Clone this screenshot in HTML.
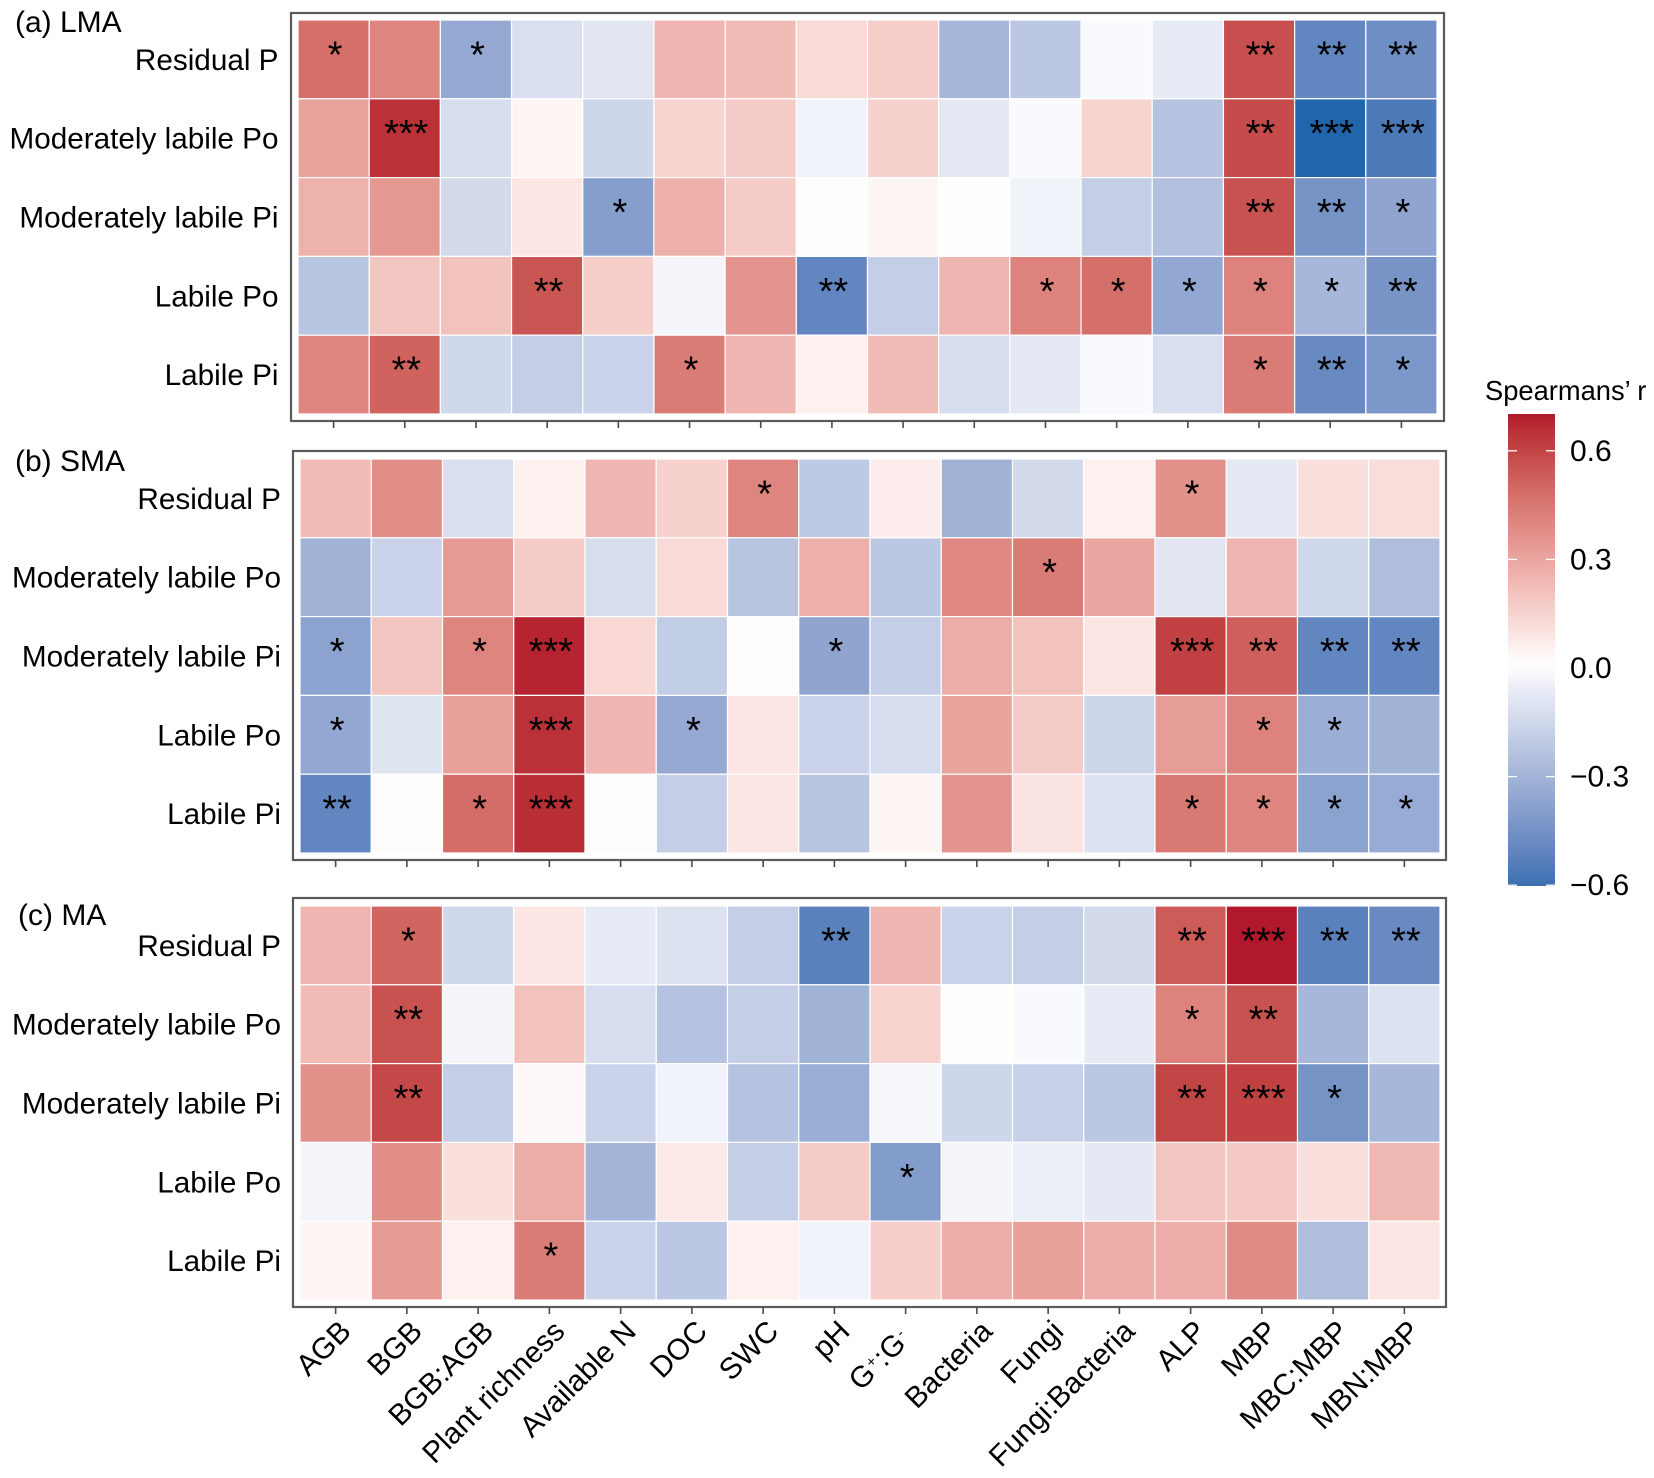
<!DOCTYPE html>
<html lang="en">
<head>
<meta charset="utf-8">
<title>Spearman correlation heatmaps</title>
<style>
html,body{margin:0;padding:0;background:#fff;width:1654px;height:1478px;overflow:hidden}
svg{display:block}
text{font-family:"Liberation Sans",Arial,sans-serif;fill:#000}
</style>
</head>
<body>
<svg id="chart" xmlns="http://www.w3.org/2000/svg" width="1654" height="1478" viewBox="0 0 1654 1478"></svg>
<script>
const columnLabels = ["AGB","BGB","BGB:AGB","Plant richness","Available N","DOC","SWC","pH","G+:G-","Bacteria","Fungi","Fungi:Bacteria","ALP","MBP","MBC:MBP","MBN:MBP"];
const rowLabels = ["Residual P","Moderately labile Po","Moderately labile Pi","Labile Po","Labile Pi"];
const legendTicks = [0.6,0.3,0,-0.3,-0.6];
const legendTickLabels = ["0.6","0.3","0.0","\u22120.3","\u22120.6"];
const legendMax = 0.7;
const legendMin = -0.62;
const panelTitles = ["(a) LMA","(b) SMA","(c) MA"];

const valuesLMA = [
 [.47,.40,-.36,-.13,-.10,.24,.22,.12,.16,-.30,-.23,-.02,-.08,.57,-.52,-.48],
 [.30,.65,-.14,.03,-.17,.14,.17,-.05,.15,-.09,-.02,.14,-.25,.58,-.70,-.58],
 [.25,.34,-.15,.08,-.41,.26,.17,.01,.03,-.01,-.05,-.20,-.26,.56,-.46,-.38],
 [-.24,.19,.20,.55,.16,-.04,.35,-.52,-.20,.24,.41,.47,-.37,.41,-.30,-.45],
 [.40,.51,-.16,-.20,-.18,.43,.24,.05,.22,-.14,-.09,-.02,-.13,.43,-.50,-.44]
];
const valuesSMA = [
 [.22,.37,-.13,.05,.24,.15,.40,-.22,.06,-.32,-.15,.05,.36,-.09,.10,.11],
 [-.32,-.18,.33,.17,-.14,.12,-.24,.26,-.23,.39,.43,.29,-.10,.24,-.16,-.27],
 [-.39,.19,.40,.68,.13,-.21,.01,-.38,-.20,.27,.20,.08,.61,.52,-.52,-.52],
 [-.37,-.11,.31,.65,.24,-.36,.08,-.18,-.14,.30,.17,-.17,.32,.41,-.34,-.32],
 [-.52,.01,.48,.66,-.01,-.20,.08,-.24,.03,.35,.09,-.12,.44,.40,-.39,-.35]
];
const valuesMA = [
 [.24,.50,-.16,.08,-.08,-.12,-.20,-.54,.24,-.18,-.20,-.15,.53,.70,-.54,-.50],
 [.22,.56,-.04,.20,-.14,-.25,-.20,-.32,.14,.01,-.02,-.08,.41,.56,-.30,-.12],
 [.36,.59,-.20,.02,-.18,-.05,-.25,-.34,-.03,-.17,-.19,-.23,.60,.61,-.46,-.30],
 [-.04,.37,.10,.27,-.31,.07,-.20,.17,-.42,-.04,-.07,-.09,.19,.18,.10,.23],
 [.03,.33,.05,.43,-.18,-.23,.05,-.05,.16,.27,.31,.27,.27,.38,-.27,.08]
];
const starsLMA = [
 [1,0,1,0,0,0,0,0,0,0,0,0,0,2,2,2],
 [0,3,0,0,0,0,0,0,0,0,0,0,0,2,3,3],
 [0,0,0,0,1,0,0,0,0,0,0,0,0,2,2,1],
 [0,0,0,2,0,0,0,2,0,0,1,1,1,1,1,2],
 [0,2,0,0,0,1,0,0,0,0,0,0,0,1,2,1]
];
const starsSMA = [
 [0,0,0,0,0,0,1,0,0,0,0,0,1,0,0,0],
 [0,0,0,0,0,0,0,0,0,0,1,0,0,0,0,0],
 [1,0,1,3,0,0,0,1,0,0,0,0,3,2,2,2],
 [1,0,0,3,0,1,0,0,0,0,0,0,0,1,1,0],
 [2,0,1,3,0,0,0,0,0,0,0,0,1,1,1,1]
];
const starsMA = [
 [0,1,0,0,0,0,0,2,0,0,0,0,2,3,2,2],
 [0,2,0,0,0,0,0,0,0,0,0,0,1,2,0,0],
 [0,2,0,0,0,0,0,0,0,0,0,0,2,3,1,0],
 [0,0,0,0,0,0,0,0,1,0,0,0,0,0,0,0],
 [0,0,0,1,0,0,0,0,0,0,0,0,0,0,0,0]
];

const NS = "http://www.w3.org/2000/svg";
const svg = document.getElementById("chart");

function mk(tag, attrs, parent, txt) {
  const e = document.createElementNS(NS, tag);
  for (const k in attrs) e.setAttribute(k, attrs[k]);
  if (txt !== undefined) e.textContent = txt;
  (parent || svg).appendChild(e);
  return e;
}

/* Lab-space diverging colour scale, white at zero */
function toLab(hex) {
  const c = [1,3,5].map(i => parseInt(hex.substr(i,2),16)/255).map(v => v>0.04045 ? Math.pow((v+0.055)/1.055,2.4) : v/12.92);
  const X=(0.4124*c[0]+0.3576*c[1]+0.1805*c[2])/0.95047, Y=0.2126*c[0]+0.7152*c[1]+0.0722*c[2], Z=(0.0193*c[0]+0.1192*c[1]+0.9505*c[2])/1.08883;
  const f = t => t>0.008856 ? Math.cbrt(t) : 7.787*t+16/116;
  return [116*f(Y)-16, 500*(f(X)-f(Y)), 200*(f(Y)-f(Z))];
}
function fromLab(l) {
  const y=(l[0]+16)/116, x=l[1]/500+y, z=y-l[2]/200;
  const g = t => t*t*t>0.008856 ? t*t*t : (t-16/116)/7.787;
  const X=g(x)*0.95047, Y=g(y), Z=g(z)*1.08883;
  const r=[3.2406*X-1.5372*Y-0.4986*Z, -0.9689*X+1.8758*Y+0.0415*Z, 0.0557*X-0.2040*Y+1.0570*Z];
  return "rgb("+r.map(v=>{v=v>0.0031308?1.055*Math.pow(v,1/2.4)-0.055:12.92*v;return Math.round(Math.max(0,Math.min(1,v))*255);}).join(",")+")";
}
const labHigh = toLab("#b2182b"), labLow = toLab("#2166ac"), labMid = toLab("#ffffff");
function colorScale(v) {
  const t = Math.min(1, Math.abs(v)/(v>=0 ? 0.7 : 0.67)), e = v>=0 ? labHigh : labLow;
  return fromLab(labMid.map((m,i)=>m+(e[i]-m)*t));
}

const panelGeoms = [
  {fx0:291,fx1:1444,fy0:13,fy1:421,tx0:298,tx1:1437,ty0:20,ty1:414,key:"lma",vals:valuesLMA,stars:starsLMA,titleX:15,titleY:32,labelX:278.5},
  {fx0:293,fx1:1446,fy0:451,fy1:860,tx0:300,tx1:1440,ty0:459,ty1:853,key:"sma",vals:valuesSMA,stars:starsSMA,titleX:15,titleY:471,labelX:281},
  {fx0:293,fx1:1446,fy0:898,fy1:1307,tx0:300,tx1:1440,ty0:906,ty1:1300,key:"ma",vals:valuesMA,stars:starsMA,titleX:18,titleY:925,labelX:281}
];
const nCols = columnLabels.length, nRows = rowLabels.length;

panelGeoms.forEach((p, pi) => {
  const xBand = (p.tx1-p.tx0)/nCols, yBand = (p.ty1-p.ty0)/nRows;
  const xScale = i => p.tx0 + i*xBand;
  const yScale = j => p.ty0 + j*yBand;
  const g = mk("g", {});
  
  

  p.vals.forEach((row, j) => row.forEach((v, i) => {
    const r = mk("rect", {x:xScale(i), y:yScale(j), width:xBand, height:yBand, fill:colorScale(v), stroke:"#fff", "stroke-width":1.2}, g);
    
    
  }));
  p.stars.forEach((row, j) => row.forEach((n, i) => {
    if (!n) return;
    const s = mk("text", {x:xScale(i)+xBand/2+1.5, y:yScale(j)+yBand/2+8, "text-anchor":"middle", "font-size":38}, g, "*".repeat(n));
    
    
  }));
  const frame = mk("rect", {x:p.fx0, y:p.fy0, width:p.fx1-p.fx0, height:p.fy1-p.fy0, fill:"none", stroke:"#5a5a5a", "stroke-width":2.2}, g);
  
  

  columnLabels.forEach((c, i) => {
    const tick = mk("line", {x1:xScale(i)+xBand/2, x2:xScale(i)+xBand/2, y1:p.fy1, y2:p.fy1+7, stroke:"#4a4a4a", "stroke-width":1.6}, g);
    
    
  });
  rowLabels.forEach((r, j) => {
    const t = mk("text", {x:p.labelX, y:yScale(j)+yBand/2+10.5, "text-anchor":"end", "font-size":29.7}, g, r);
    
    
  });
  const title = mk("text", {x:p.titleX, y:p.titleY, "font-size":30}, g, panelTitles[pi]);
  
  

  if (pi === 2) {
    columnLabels.forEach((c, i) => {
      const isRatioGlyph = c === "G+:G-";
      const ax = xScale(i)+xBand/2+(isRatioGlyph ? 6 : 17), ay = p.fy1+(isRatioGlyph ? 34 : 26);
      const t = mk("text", {x:ax, y:ay, "text-anchor":"end", "font-size":29.7, transform:"rotate(-45 "+ax+" "+ay+")"}, g);
      
      
      if (isRatioGlyph) {
        const parts = [["G",0,0,29.7],["+",1,-9,15],[":",1,9,29.7],["G",0.5,0,29.7],["-",1,-9,15]];
        parts.forEach(q => mk("tspan", {dx:q[1], dy:q[2], "font-size":q[3]}, t, q[0]));
      } else {
        t.textContent = c;
      }
    });
  }
});

/* colour bar */
const barX0 = 1508, barX1 = 1555, barY0 = 414, barY1 = 886;
const legendY = v => 668 - v*362;
const defs = mk("defs", {});
const grad = mk("linearGradient", {id:"colorbar-gradient", x1:0, y1:0, x2:0, y2:1}, defs);
for (let k=0;k<=40;k++){
  const f=k/40;
  mk("stop",{offset:f, "stop-color":colorScale(legendMax+(legendMin-legendMax)*f)},grad);
}
const lg = mk("g", {});


const lt = mk("text", {x:1485, y:400, "font-size":27.3}, lg, "Spearmans\u2019 r");


const bar = mk("rect", {x:barX0, y:barY0, width:barX1-barX0, height:barY1-barY0, fill:"url(#colorbar-gradient)"}, lg);


legendTicks.forEach((v, i) => {
  const y = legendY(v);
  mk("line", {x1:barX0, x2:barX0+9, y1:y, y2:y, stroke:"#fff", "stroke-width":1.3}, lg);
  mk("line", {x1:barX1-9, x2:barX1, y1:y, y2:y, stroke:"#fff", "stroke-width":1.3}, lg);
  const t = mk("text", {x:1570, y:y+10, "font-size":30}, lg, legendTickLabels[i]);
  
  
});
</script>
</body>
</html>
